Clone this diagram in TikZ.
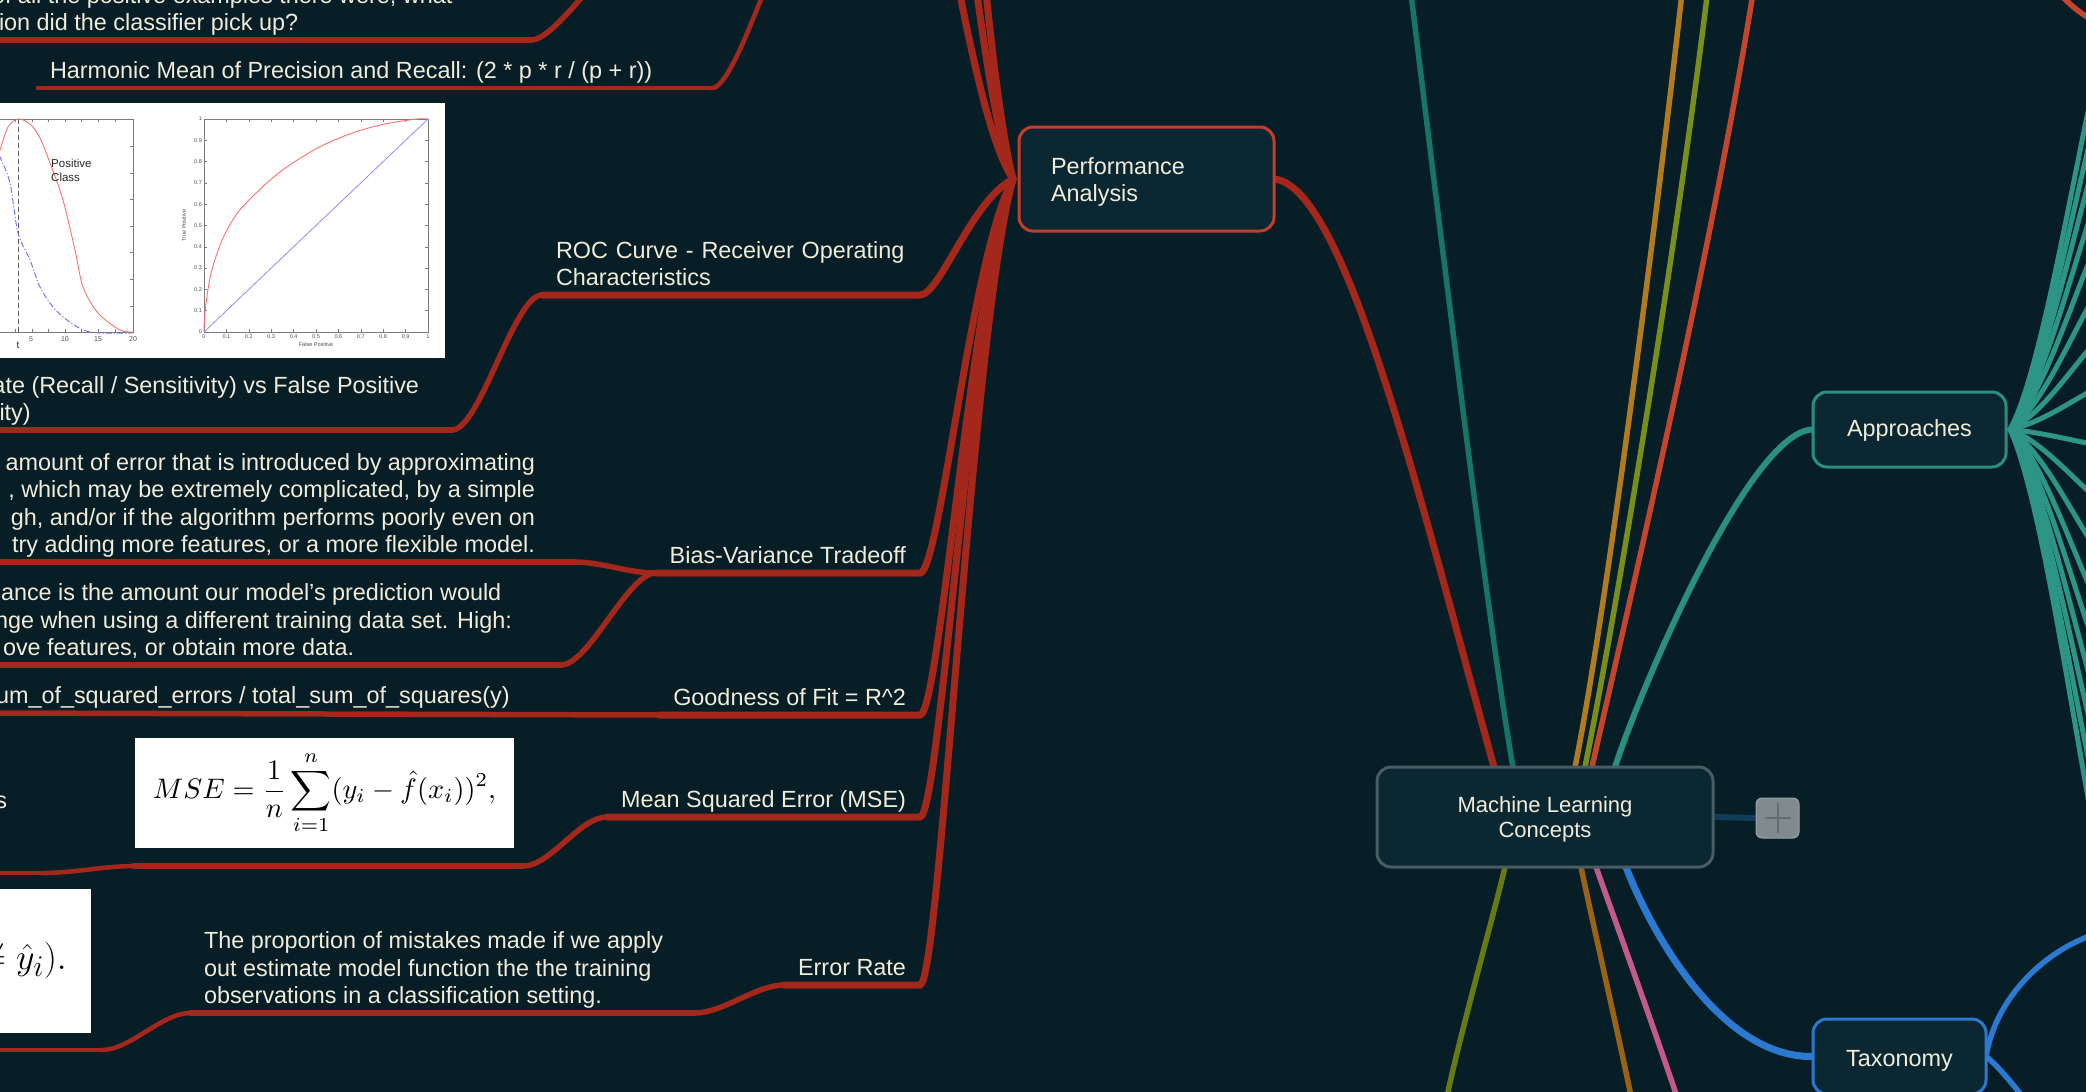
\documentclass[tikz,border=0pt]{standalone}
\usepackage[no-math]{fontspec}
\setmainfont{Liberation Sans}
\usepackage{graphicx}
\usetikzlibrary{calc}
\pgfdeclarelayer{bgl}
\pgfdeclarelayer{lines}
\pgfsetlayers{bgl,lines,main}
\definecolor{bgc}{HTML}{071E27}
\definecolor{nodef}{HTML}{0B2832}
\definecolor{txt}{HTML}{F0ECD9}
\definecolor{redl}{HTML}{A3271A}
\definecolor{redb}{HTML}{C33D2C}
\definecolor{tealf}{HTML}{2C9585}
\definecolor{tealb}{HTML}{2A8F80}
\definecolor{tealdk}{HTML}{167566}
\definecolor{goldl}{HTML}{B07C1F}
\definecolor{olivet}{HTML}{7A8E1B}
\definecolor{redor}{HTML}{C4452C}
\definecolor{oliveb}{HTML}{687A12}
\definecolor{brownl}{HTML}{9A6214}
\definecolor{pinkl}{HTML}{C25A8B}
\definecolor{bluel}{HTML}{2B79D0}
\definecolor{mlcb}{HTML}{4A5C63}
\definecolor{plusf}{HTML}{808A8F}
\definecolor{plusb}{HTML}{9AA4A8}
\definecolor{pluss}{HTML}{636E73}
\definecolor{glow}{HTML}{0F3C5A}
\definecolor{axc}{HTML}{7A7A7A}
\definecolor{rocr}{HTML}{FF6F6F}
\definecolor{rocb}{HTML}{8C8CFF}
\definecolor{rocbd}{HTML}{6A6AFF}
\newcommand\lbfont{\fontsize{23.4}{27.3}\selectfont}
\newcommand\mlcfont{\fontsize{22}{25}\selectfont}
\newcommand\tinyax{\fontsize{5.5}{6.5}\selectfont}
\newcommand\paline[2]{\draw[lnA] (#1) -- (#2) .. controls ($(#2)+(20,0)$) and ($(paL)!0.19!(paL|-#2)+(-42,0)$) .. (paL);}
\newcommand\kidline[3]{\draw[#1] (#2) .. controls ($(#2)+(-28,0)$) and ($(#3)+(28,0)$) .. (#3);}
\tikzset{
 lbl/.style={text=txt, font=\lbfont, inner xsep=14pt, inner ysep=1.5pt, outer sep=0pt},
 lnA/.style={draw=redl, line width=7pt, line cap=round},
 lnB/.style={draw=redl, line width=5.5pt, line cap=round},
 lnC/.style={draw=redl, line width=4.6pt, line cap=round},
 rootln/.style={line width=5.5pt, line cap=round},
 fanln/.style={draw=tealf, line width=5pt, line cap=round},
 mmbox/.style={rounded corners=14pt, fill=nodef, line width=3pt, outer sep=0pt, text=txt, font=\lbfont, align=center},
 tickl/.style={font=\tinyax, text=black!70, inner sep=0.8pt},
}
\begin{document}
\begin{tikzpicture}[x=1pt,y=-1pt]
\useasboundingbox (0,0) rectangle (2086,1092);
\begin{pgfonlayer}{bgl}
\fill[bgc] (0,0) rectangle (2086,1092);
\end{pgfonlayer}

% ---------- main boxes ----------
\node[mmbox, draw=redb, minimum width=255pt, minimum height=104pt, text width=191pt, align=left, inner xsep=32pt] (pa) at (1146.5,179) {\rule{0pt}{23.5pt}Performance\\Analysis};
\node[mmbox, draw=mlcb, minimum width=336pt, minimum height=100pt, font=\mlcfont] (mlc) at (1545,817) {\rule{0pt}{21.5pt}Machine Learning\\Concepts};
\node[mmbox, draw=tealb, minimum width=193pt, minimum height=75pt] (appr) at (1909.5,429.5) {\rule{0pt}{19pt}Approaches};
\node[mmbox, draw=bluel, minimum width=173pt, minimum height=75pt] (taxo) at (1899.5,1056.5) {\rule{0pt}{24pt}Taxonomy};
\node[draw=plusb, fill=plusf, rounded corners=6pt, minimum width=43pt, minimum height=40pt, line width=1pt, inner sep=0pt] (plus) at (1777.5,818) {};
\draw[pluss, line width=2pt] ($(plus.center)+(-13,0)$) -- ($(plus.center)+(13,0)$);
\draw[pluss, line width=2pt] ($(plus.center)+(0,-15)$) -- ($(plus.center)+(0,15)$);

% ---------- labels (children of Performance Analysis) ----------
\node[lbl, anchor=south west, text width=350pt, align=left] (roc) at (542,295) {ROC Curve - Receiver Operating\\Characteristics\strut};
\node[lbl, anchor=south east, align=right] (bvt) at (920,573) {Bias-Variance Tradeoff\strut};
\node[lbl, anchor=south east, align=right] (gof) at (920,715) {Goodness of Fit = R\textasciicircum 2\strut};
\node[lbl, anchor=south east, align=right] (mse) at (920,817) {Mean Squared Error (MSE)\strut};
\node[lbl, anchor=south east, align=right] (err) at (920,985) {Error Rate\strut};

% ---------- deeper labels ----------
\node[lbl, anchor=south west, inner xsep=12pt] (harm) at (38,88) {Harmonic Mean of Precision and Recall: (2 * p * r / (p + r))\strut};
\node[lbl, anchor=south west, align=left, inner xsep=0pt] (recl) at (-8,40) {of all the positive examples there were, what\\\hspace*{7pt}ion did the classifier pick up?\strut};
\node[lbl, anchor=south west, align=left, inner xsep=0pt] (tpr) at (-7.5,430) {ate (Recall / Sensitivity) vs False Positive\\\hspace*{7pt}ity)\strut};
\node[lbl, anchor=south east, align=right, inner xsep=0pt] (bias) at (535,562) {amount of error that is introduced by approximating\\, which may be extremely complicated, by a simple\\gh, and/or if the algorithm performs poorly even on\\try adding more features, or a more flexible model.\strut};
\node[lbl, anchor=south west, align=left, inner xsep=0pt] (var) at (-5,665) {\hspace*{6pt}ance is the amount our model’s prediction would\\nge when using a different training data set. High:\\\hspace*{8pt}ove features, or obtain more data.\strut};
\node[lbl, anchor=south west, inner xsep=0pt] (gofc) at (-4,713) {um\_of\_squared\_errors / total\_sum\_of\_squares(y)\strut};
\node[lbl, anchor=base east, inner xsep=0pt] (sfrag) at (7,808) {s};
\node[lbl, anchor=south west, align=left] (errt) at (190,1013) {The proportion of mistakes made if we apply\\out estimate model function the the training\\observations in a classification setting.\strut};

% ---------- images ----------
\node[fill=white, inner sep=0pt, minimum width=379pt, minimum height=110pt] (msei) at (324.5,793) {\resizebox{343pt}{!}{$\displaystyle MSE=\frac{1}{n}\sum_{i=1}^{n}(y_i-\hat{f}(x_i))^2,$}};
\node[fill=white, inner sep=0pt, minimum width=120pt, minimum height=144pt] (erri) at (31,961) {};
\node[anchor=base east, inner sep=0pt, font=\fontsize{24.88}{30}\selectfont] (errf) at (67,969) {\scalebox{1.45}{$\neq\hat{y}_i).$}};
\node[fill=white, inner sep=0pt, minimum width=465pt, minimum height=255pt] (rocimg) at (212.5,230.5) {};

% left plot of ROC picture
\draw[axc, line width=0.7pt] (-40,119) -- (133,119) -- (133,332) -- (-40,332);
\foreach \ty in {146,173,199,226,252,279,306} \draw[axc, line width=0.6pt] (130,\ty) -- (133,\ty);
\foreach \tx in {15,32,48.5,65,81.5,98,115} {\draw[axc, line width=0.6pt] (\tx,119) -- (\tx,122); \draw[axc, line width=0.6pt] (\tx,332) -- (\tx,329);}
\draw[black!65, line width=0.9pt, dash pattern=on 5pt off 3pt] (18,119) -- (18,332);
\draw[rocbd, line width=0.9pt, dash pattern=on 6pt off 2pt on 1.2pt off 2pt] plot[smooth] coordinates {(-10,135) (0,157) (10,183) (18,233) (30,260) (40,287) (53,307) (67,320) (83,330) (100,333) (133,333)};
\draw[rocr, line width=0.9pt] plot[smooth] coordinates {(-12,185) (0,150) (8,127) (18,119) (30,124) (40,138) (50,163) (63,200) (75,250) (83,287) (98,313) (120,330) (133,332)};
\node[anchor=west, align=left, font=\fontsize{11.5}{14}\selectfont, text=black!85, inner sep=0pt] (poscl) at (51,170) {Positive\\Class};
\foreach \tx/\tl in {31/5,65/10,98/15,133/20} \node[tickl, font=\fontsize{7}{8}\selectfont] at (\tx,339) {\tl};
\node[font=\fontsize{10}{12}\selectfont, text=black!85, inner sep=0pt] (tlab) at (18,345) {t};

% right plot of ROC picture
\begin{scope}[shift={(204,332)}, x=224pt, y=213pt]
\draw[axc, line width=0.7pt] (0,0) rectangle (1,1);
\foreach \v in {0.1,0.2,0.3,0.4,0.5,0.6,0.7,0.8,0.9} {
 \draw[axc, line width=0.5pt] (\v,0) -- (\v,0.014);
 \draw[axc, line width=0.5pt] (\v,1) -- (\v,0.986);
 \draw[axc, line width=0.5pt] (0,\v) -- (0.013,\v);
 \draw[axc, line width=0.5pt] (1,\v) -- (0.987,\v);
}
\foreach \v in {0,0.1,0.2,0.3,0.4,0.5,0.6,0.7,0.8,0.9,1} {
 \node[tickl, anchor=east] at (-0.005,\v) {\v};
 \node[tickl, anchor=north] at (\v,-0.01) {\v};
}
\node[tickl] at (0.5,-0.06) {False Positive};
\node[tickl, rotate=90] at (-0.09,0.5) {True Positive};
\draw[rocb, line width=0.8pt] (0,0) -- (1,1);
\draw[rocr, line width=0.9pt] plot[smooth] coordinates {(0,0) (0.005,0.1) (0.03,0.27) (0.08,0.43) (0.15,0.56) (0.25,0.67) (0.35,0.76) (0.5,0.86) (0.65,0.93) (0.8,0.975) (0.95,1) (1,1)};
\end{scope}

% ---------- connectors ----------
\begin{pgfonlayer}{lines}
\coordinate (paL) at ([xshift=-6pt]pa.west);
\coordinate (upA) at (922,-150);
\coordinate (upB) at (922,-400);
\coordinate (upC) at (922,-700);
\coordinate (f1L) at (822,-120);
\coordinate (recL) at (645,-60);
\coordinate (harmR) at (712,88);
\coordinate (reclR) at (531,40);
\coordinate (tprR) at (452,430);
\coordinate (biasR) at (574,562);
\coordinate (varR) at (561,665);
\coordinate (mseiR) at (523,866);
\coordinate (mseiL) at (134,866);
\coordinate (sL) at (44,873);
\coordinate (sLL) at (-20,873);
\coordinate (errtR) at (695,1013);
\coordinate (erriR) at (102,1050);
\coordinate (erriL) at (-20,1050);

\paline{upA}{upA}
\paline{upB}{upB}
\paline{upC}{upC}
\paline{roc.south west}{roc.south east}
\paline{bvt.south west}{bvt.south east}
\paline{gof.south west}{gof.south east}
\paline{mse.south west}{mse.south east}
\paline{err.south west}{err.south east}

\kidline{lnC}{f1L}{harmR}
\draw[lnC] (harmR) -- (harm.south west);
\kidline{lnB}{recL}{reclR}
\draw[lnB] (reclR) -- (recl.south west);
\kidline{lnB}{roc.south west}{tprR}
\draw[lnB] (tprR) -- (tpr.south west);
\kidline{lnB}{bvt.south west}{biasR}
\draw[lnB] (biasR) -- ([xshift=-20pt]bias.south west);
\kidline{lnB}{bvt.south west}{varR}
\draw[lnB] (varR) -- (var.south west);
\draw[lnB] (gof.south west) -- (gofc.south west);
\kidline{lnB}{mse.south west}{mseiR}
\draw[lnB] (mseiR) -- (mseiL);
\kidline{lnC}{mseiL}{sL}
\draw[lnC] (sL) -- (sLL);
\kidline{lnB}{err.south west}{errtR}
\draw[lnB] (errtR) -- (errt.south west);
\kidline{lnC}{errt.south west}{erriR}
\draw[lnC] (erriR) -- (erriL);

% root branches
\coordinate (tdk) at (1402,-80);
\coordinate (gld) at (1690,-80);
\coordinate (olt) at (1716,-80);
\coordinate (ror) at (1764,-80);
\coordinate (olb) at (1440,1130);
\coordinate (brw) at (1638,1130);
\coordinate (pnk) at (1688,1130);
\draw[rootln, draw=redl, line width=7pt] (pa.east) .. controls (1345,185) and (1420,500) .. ([xshift=-51pt]mlc.north);
\draw[rootln, draw=tealdk] ([xshift=-32pt]mlc.north) .. controls (1490,640) and (1430,150) .. (tdk);
\draw[rootln, draw=goldl] ([xshift=30pt]mlc.north) .. controls (1605,620) and (1660,200) .. (gld);
\draw[rootln, draw=olivet] ([xshift=40pt]mlc.north) .. controls (1615,620) and (1685,200) .. (olt);
\draw[rootln, draw=redor] ([xshift=47pt]mlc.north) .. controls (1625,620) and (1725,200) .. (ror);
\draw[rootln, draw=tealb, line width=6pt] ([xshift=70pt]mlc.north) .. controls (1640,690) and (1750,430) .. (appr.west);
\draw[rootln, draw=oliveb] ([xshift=-40pt]mlc.south) .. controls (1490,930) and (1455,1050) .. (olb);
\draw[rootln, draw=brownl] ([xshift=36pt]mlc.south) .. controls (1592,920) and (1622,1050) .. (brw);
\draw[rootln, draw=pinkl] ([xshift=51pt]mlc.south) .. controls (1615,920) and (1662,1050) .. (pnk);
\draw[rootln, draw=bluel, line width=7pt] ([xshift=81pt]mlc.south) .. controls (1650,930) and (1720,1058) .. (taxo.west);
\draw[glow, line width=6pt] (mlc.east) -- (plus.west);

% approaches fan
\coordinate (apR) at ([xshift=4pt]appr.east);
\foreach \yy [count=\i] in {22,70,116,166,218,273,328,382,447,508,567,626,681,738,794,849,901} {
 \coordinate (apk\i) at (2115,\yy);
 \draw[fanln] (apR) .. controls (2052,{430+0.19*(\yy-430)}) and (2095,\yy) .. (apk\i);
}
% taxonomy children
\coordinate (txu) at (2110,932);
\coordinate (txd) at (2085,1170);
\draw[rootln, draw=bluel] (taxo.east) .. controls (2000,975) and (2080,932) .. (txu);
\draw[rootln, draw=bluel] (taxo.east) .. controls (2010,1075) and (2045,1130) .. (txd);
% top right arc
\coordinate (trA) at (2035,-40);
\coordinate (trB) at (2100,24);
\draw[rootln, draw=redor] (trA) .. controls (2050,-15) and (2070,10) .. (trB);
\end{pgfonlayer}
\end{tikzpicture}
\end{document}
